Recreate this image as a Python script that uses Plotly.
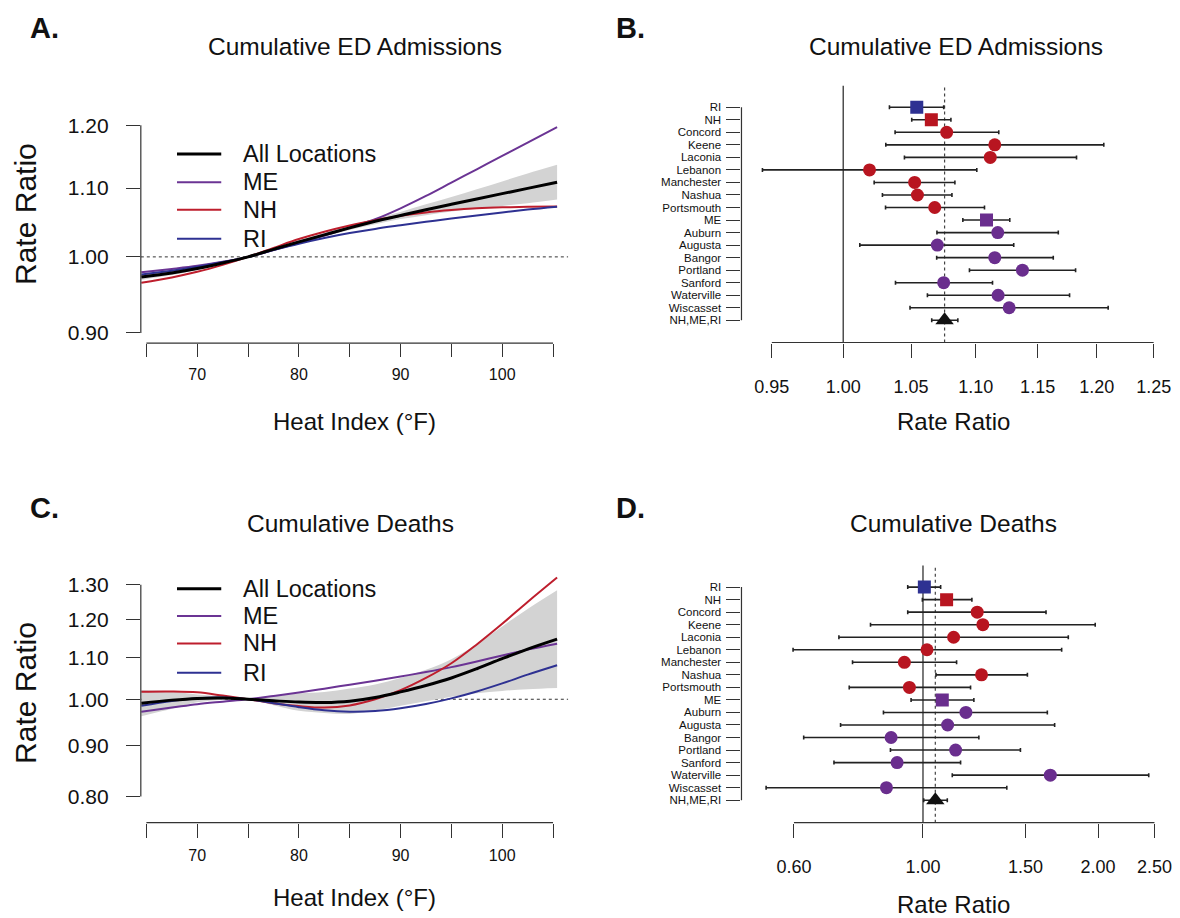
import plotly.graph_objects as go

# ---------------- data ----------------
# Panel A: cumulative ED admissions, exposure-response curves (rate ratio vs heat index)
heat_a = [64.5, 67.5, 70, 72.5, 75, 77.5, 80, 82.5, 85, 87.5, 90, 92.5, 95, 97.5, 100, 102.5, 105.4]
ed_all = [0.9725, 0.978, 0.984, 0.9915, 1.000, 1.0105, 1.021, 1.031, 1.041, 1.0505, 1.059,
          1.0675, 1.0755, 1.0835, 1.0915, 1.0995, 1.109]
ed_all_lo = [0.9686, 0.9751, 0.982, 0.9905, 1.000, 1.0093, 1.019, 1.0284, 1.0379, 1.0463, 1.0537,
             1.0595, 1.0648, 1.0690, 1.0731, 1.0772, 1.0827]
ed_all_hi = [0.9764, 0.9809, 0.986, 0.9925, 1.000, 1.0117, 1.023, 1.0336, 1.0441, 1.0547, 1.0643,
             1.0755, 1.0863, 1.0982, 1.1102, 1.1223, 1.1359]
ed_me = [0.979, 0.9835, 0.9877, 0.9932, 1.000, 1.0095, 1.0195, 1.030, 1.0415, 1.0535, 1.0695,
         1.088, 1.1083, 1.129, 1.150, 1.1715, 1.197]
ed_nh = [0.9648, 0.972, 0.9795, 0.989, 1.000, 1.0125, 1.025, 1.0355, 1.0445, 1.052, 1.0585,
         1.0635, 1.067, 1.0695, 1.071, 1.0718, 1.0722]
ed_ri = [0.976, 0.981, 0.9863, 0.9928, 1.000, 1.0095, 1.0185, 1.0265, 1.0335, 1.0395, 1.0447,
         1.0497, 1.0545, 1.059, 1.0635, 1.0678, 1.072]

# Panel C: cumulative deaths, exposure-response curves
heat_c = [64.5, 67.5, 70, 72.5, 75, 77.5, 80, 82.5, 85, 87.5, 90, 92.5, 95, 97.5, 100, 102.5, 105.4]
de_all = [0.991, 0.998, 1.002, 1.003, 1.000, 0.9965, 0.9935, 0.9925, 0.9955, 1.004, 1.017,
          1.032, 1.050, 1.0725, 1.0975, 1.122, 1.148]
de_all_lo = [0.9617, 0.9782, 0.993, 0.999, 1.000, 0.9866, 0.9738, 0.969, 0.967, 0.9743, 0.985,
             0.9955, 1.0058, 1.0141, 1.0192, 1.0233, 1.0264]
de_all_hi = [1.0212, 1.0182, 1.0111, 1.007, 1.000, 1.0065, 1.0136, 1.0166, 1.0248, 1.0345, 1.0501,
             1.0698, 1.0961, 1.1343, 1.1818, 1.2302, 1.2841]
de_me = [0.972, 0.981, 0.9887, 0.9945, 1.000, 1.0075, 1.0155, 1.0245, 1.034, 1.0435, 1.0535,
         1.0645, 1.0765, 1.0905, 1.1055, 1.1205, 1.136]
de_nh = [1.0175, 1.018, 1.016, 1.0085, 1.000, 0.991, 0.9845, 0.981, 0.986, 1.000, 1.021,
         1.050, 1.086, 1.134, 1.189, 1.250, 1.322]
de_ri = [0.985, 0.996, 1.0025, 1.004, 1.000, 0.991, 0.982, 0.975, 0.972, 0.9735, 0.9795,
         0.989, 1.002, 1.018, 1.037, 1.058, 1.081]

# Panels B and D: forest plots (rate ratio and 95% CI by location)
locations = ["RI", "NH", "Concord", "Keene", "Laconia", "Lebanon", "Manchester", "Nashua",
             "Portsmouth", "ME", "Auburn", "Augusta", "Bangor", "Portland", "Sanford",
             "Waterville", "Wiscasset", "NH,ME,RI"]
state = ["RI", "NH", "NH", "NH", "NH", "NH", "NH", "NH", "NH",
         "ME", "ME", "ME", "ME", "ME", "ME", "ME", "ME", "ALL"]
level = ["state", "state", "city", "city", "city", "city", "city", "city", "city",
         "state", "city", "city", "city", "city", "city", "city", "city", "pooled"]

ed_rr = [1.0543, 1.0654, 1.0772, 1.1151, 1.1115, 1.0191, 1.0527, 1.0548, 1.068,
         1.1085, 1.1175, 1.070, 1.1151, 1.1375, 1.0749, 1.1178, 1.1267, 1.0756]
ed_lo = [1.0338, 1.0505, 1.038, 1.0311, 1.045, 0.9436, 1.0225, 1.0286, 1.0309,
         1.0898, 1.0697, 1.012, 1.0695, 1.095, 1.0383, 1.0624, 1.0492, 1.0657]
ed_hi = [1.0749, 1.0805, 1.1183, 1.206, 1.1826, 1.1008, 1.0836, 1.0813, 1.1069,
         1.1272, 1.1672, 1.1304, 1.163, 1.1818, 1.1133, 1.1767, 1.2098, 1.0859]

de_rr = [1.0054, 1.098, 1.2394, 1.2674, 1.1289, 1.016, 0.929, 1.2608, 0.9476,
         1.0794, 1.1852, 1.1024, 0.8814, 1.1378, 0.9026, 1.6555, 0.8653, 1.050]
de_lo = [0.9414, 0.9975, 0.9414, 0.8124, 0.7169, 0.5979, 0.7566, 1.0528, 0.7468,
         0.9539, 0.8551, 0.7216, 0.6236, 0.8791, 0.703, 1.1229, 0.5374, 1.0028]
de_hi = [1.0724, 1.2136, 1.6275, 1.9775, 1.7775, 1.7314, 1.1423, 1.5119, 1.2072,
         1.2232, 1.636, 1.684, 1.2476, 1.4707, 1.1605, 2.444, 1.3935, 1.101]

# tick values / labels
curve_xticks = [65, 70, 75, 80, 85, 90, 95, 100, 105]
curve_xlabels = ["", "70", "", "80", "", "90", "", "100", ""]
a_yticks = [0.90, 1.00, 1.10, 1.20]
c_yticks = [0.80, 0.90, 1.00, 1.10, 1.20, 1.30]
b_xticks = [0.95, 1.00, 1.05, 1.10, 1.15, 1.20, 1.25]
d_xticks = [0.60, 1.00, 1.50, 2.00, 2.50]

legend_names = ["All Locations", "ME", "NH", "RI"]

# ---------------- style ----------------
W, H = 1180, 918
FONT = "Liberation Sans, Arial, Helvetica, sans-serif"
COL = {"ALL": "#000000", "ME": "#6B3494", "NH": "#BE1E2D", "RI": "#2E3192"}
DOT_COL = {"ALL": "#111111", "ME": "#6A2E8E", "NH": "#B81520", "RI": "#2E3192"}
BAND = "#D3D3D3"
AX = "#333333"


def dx(l, r):
    return [l / W, r / W]


def dy(top, bottom):
    return [1 - bottom / H, 1 - top / H]


def fx(p):
    return p / W


def fy(p):
    return 1 - p / H


fig = go.Figure()


def add_curves(x, lo, hi, series, xa, ya):
    fig.add_trace(go.Scatter(x=x, y=lo, mode="lines", line=dict(width=0, shape="spline"),
                             hoverinfo="skip", showlegend=False, xaxis=xa, yaxis=ya))
    fig.add_trace(go.Scatter(x=x, y=hi, mode="lines", line=dict(width=0, shape="spline"),
                             fill="tonexty", fillcolor=BAND, hoverinfo="skip",
                             showlegend=False, xaxis=xa, yaxis=ya))
    for name, ys, key, w in series:
        fig.add_trace(go.Scatter(x=x, y=ys, mode="lines", name=name,
                                 line=dict(color=COL[key], width=w, shape="spline"),
                                 showlegend=False, xaxis=xa, yaxis=ya))


add_curves(heat_a, ed_all_lo, ed_all_hi,
           [("ME", ed_me, "ME", 2), ("NH", ed_nh, "NH", 2), ("RI", ed_ri, "RI", 2),
            ("All Locations", ed_all, "ALL", 3)], "x", "y")
add_curves(heat_c, de_all_lo, de_all_hi,
           [("ME", de_me, "ME", 2), ("NH", de_nh, "NH", 2), ("RI", de_ri, "RI", 2),
            ("All Locations", de_all, "ALL", 3)], "x3", "y3")

SYM = {"state": "square", "city": "circle", "pooled": "triangle-up"}
SIZE = {"state": 13, "city": 13, "pooled": 16}


def add_forest(rr, lo, hi, xa, ya):
    fig.add_trace(go.Scatter(
        x=rr, y=locations, mode="markers",
        marker=dict(symbol=[SYM[l] for l in level], size=[SIZE[l] for l in level],
                    color=[DOT_COL[s] for s in state], opacity=1, line=dict(width=0)),
        error_x=dict(type="data", symmetric=False,
                     array=[h - r for h, r in zip(hi, rr)],
                     arrayminus=[r - l for r, l in zip(rr, lo)],
                     color="#222222", thickness=1.6, width=2),
        showlegend=False, xaxis=xa, yaxis=ya))


add_forest(ed_rr, ed_lo, ed_hi, "x2", "y2")
add_forest(de_rr, de_lo, de_hi, "x4", "y4")

tickbase = dict(ticks="outside", tickcolor=AX, tickwidth=1, showgrid=False,
                zeroline=False, showline=False, color="#111111")

cat_order = list(reversed(locations))
nrow = len(locations)

fig.update_layout(
    width=W, height=H, margin=dict(l=0, r=0, t=0, b=0),
    paper_bgcolor="white", plot_bgcolor="white",
    font=dict(family=FONT, color="#111111"),
    showlegend=False,
    # Panel A
    xaxis=dict(domain=dx(141.3, 570), range=[64.451, 106.48], tickvals=curve_xticks,
               ticktext=curve_xlabels, ticklen=13, tickfont=dict(size=16),
               ticklabelstandoff=4, anchor="y", **tickbase),
    yaxis=dict(domain=dy(114, 341.7), type="log", range=[-0.05191, 0.08442],
               tickvals=a_yticks, ticktext=["%.2f" % v for v in a_yticks], ticklen=14,
               tickfont=dict(size=21), ticklabelstandoff=13, anchor="x", **tickbase),
    # Panel B
    xaxis2=dict(domain=dx(744, 1172), type="log", range=[-0.031755, 0.1014],
                tickvals=b_xticks, ticktext=["%.2f" % v for v in b_xticks], ticklen=14,
                tickfont=dict(size=18), ticklabelstandoff=14, anchor="y2", **tickbase),
    yaxis2=dict(domain=dy(83, 341), type="category", categoryorder="array",
                categoryarray=cat_order, range=[-1.7715, 18.724], ticklen=14,
                tickmode="array", tickvals=locations, ticktext=locations,
                tickfont=dict(size=11.5), ticklabelstandoff=3, anchor="x2", **tickbase),
    # Panel C
    xaxis3=dict(domain=dx(141.3, 570), range=[64.451, 106.48], tickvals=curve_xticks,
                ticktext=curve_xlabels, ticklen=14, tickfont=dict(size=16),
                ticklabelstandoff=4, anchor="y3", **tickbase),
    yaxis3=dict(domain=dy(570, 823.3), type="log", range=[-0.12295, 0.12821],
                tickvals=c_yticks, ticktext=["%.2f" % v for v in c_yticks], ticklen=14,
                tickfont=dict(size=21), ticklabelstandoff=13, anchor="x3", **tickbase),
    # Panel D
    xaxis4=dict(domain=dx(744, 1172), type="log", range=[-0.31205, 0.42127],
                tickvals=d_xticks, ticktext=["%.2f" % v for v in d_xticks], ticklen=14,
                tickfont=dict(size=18), ticklabelstandoff=14, anchor="y4", **tickbase),
    yaxis4=dict(domain=dy(565, 823.3), type="category", categoryorder="array",
                categoryarray=cat_order, range=[-1.795, 18.72], ticklen=14,
                tickmode="array", tickvals=locations, ticktext=locations,
                tickfont=dict(size=11.5), ticklabelstandoff=3, anchor="x4", **tickbase),
)

shapes = []


def axis_lines(xa, ya, xlo, xhi, ylo, yhi):
    shapes.append(dict(type="line", xref=xa, yref=ya + " domain", x0=xlo, x1=xhi, y0=0, y1=0,
                       line=dict(color=AX, width=1.2)))
    shapes.append(dict(type="line", xref=xa + " domain", yref=ya, x0=0, x1=0, y0=ylo, y1=yhi,
                       line=dict(color=AX, width=1.2)))


axis_lines("x", "y", curve_xticks[0], curve_xticks[-1], a_yticks[0], a_yticks[-1])
axis_lines("x3", "y3", curve_xticks[0], curve_xticks[-1], c_yticks[0], c_yticks[-1])
axis_lines("x2", "y2", b_xticks[0], b_xticks[-1], 0, nrow - 1)
axis_lines("x4", "y4", d_xticks[0], d_xticks[-1], 0, nrow - 1)

# reference lines
for xa, ya in (("x", "y"), ("x3", "y3")):
    shapes.append(dict(type="line", xref=xa + " domain", yref=ya, x0=0, x1=1, y0=1, y1=1,
                       layer="below", line=dict(color="#333333", width=1, dash="dot")))
for xa, ya, pooled in (("x2", "y2", ed_rr[-1]), ("x4", "y4", de_rr[-1])):
    shapes.append(dict(type="line", xref=xa, yref=ya + " domain", x0=1, x1=1, y0=0, y1=1,
                       layer="below", line=dict(color="#222222", width=1.2)))
    shapes.append(dict(type="line", xref=xa, yref=ya + " domain", x0=pooled, x1=pooled,
                       y0=0, y1=1, layer="below",
                       line=dict(color="#444444", width=1.2, dash="dot")))

annotations = []


def text(x, y, s, size, xanchor="center", bold=False, angle=0):
    annotations.append(dict(xref="paper", yref="paper", x=fx(x), y=fy(y),
                            text=("<b>%s</b>" % s) if bold else s, showarrow=False,
                            xanchor=xanchor, yanchor="middle", textangle=angle,
                            font=dict(size=size, family=FONT, color="#111111")))


# legends (panels A and C)
legend_keys = ["ALL", "ME", "NH", "RI"]
legend_widths = [3, 2, 2, 2]
for rows in ([151.7, 180, 207.7, 236.7], [588.3, 615.7, 643.3, 672.7]):
    for name, key, w, yy in zip(legend_names, legend_keys, legend_widths, rows):
        shapes.append(dict(type="line", xref="paper", yref="paper", x0=fx(177.6), x1=fx(222),
                           y0=fy(yy), y1=fy(yy), line=dict(color=COL[key], width=w)))
        text(242.3, yy, name, 23.5, xanchor="left")

# panel letters and titles
text(28, 25, "A.", 29, xanchor="left", bold=True)
text(616, 25, "B.", 29, xanchor="left", bold=True)
text(28, 507, "C.", 29, xanchor="left", bold=True)
text(616, 507, "D.", 29, xanchor="left", bold=True)
text(356, 44, "Cumulative ED Admissions", 24.5)
text(959, 44, "Cumulative ED Admissions", 24.5)
text(352, 523, "Cumulative Deaths", 24.5)
text(957, 523, "Cumulative Deaths", 24.5)

# axis titles
text(356, 420, "Heat Index (°F)", 24)
text(356, 898, "Heat Index (°F)", 24)
text(957, 420, "Rate Ratio", 24)
text(957, 905, "Rate Ratio", 24)
text(25, 212, "Rate Ratio", 30, angle=-90)
text(26, 693, "Rate Ratio", 30, angle=-90)

fig.update_layout(shapes=shapes, annotations=annotations)
fig.write_html("out.html", config={"displayModeBar": False},
               post_script="document.body.style.margin='0px';"
                           "document.body.style.overflow='hidden';")
